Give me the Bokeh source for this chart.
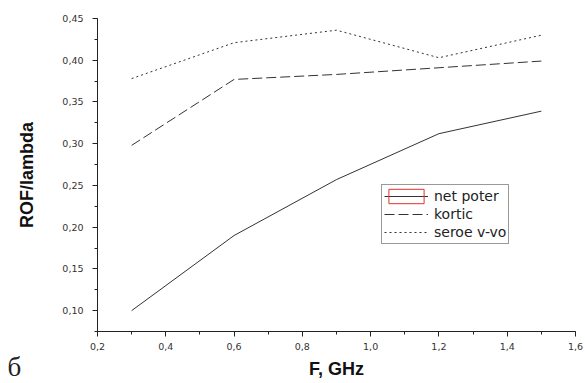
from bokeh.plotting import figure
from bokeh.models import (SingleIntervalTicker, CustomJSTickFormatter, Legend, LegendItem,
                          Label, Range1d)
from bokeh.embed import file_html
from bokeh.resources import INLINE

freq = [0.3, 0.6, 0.9, 1.2, 1.5]
net_poter = [0.100, 0.190, 0.257, 0.312, 0.339]
kortic = [0.298, 0.377, 0.383, 0.391, 0.399]
seroe = [0.378, 0.421, 0.436, 0.403, 0.430]

p = figure(width=585, height=383, output_backend="svg", toolbar_location=None,
           x_range=Range1d(0.2, 1.6), y_range=Range1d(0.075, 0.45),
           min_border_left=96, min_border_right=10, min_border_top=18, min_border_bottom=52)
p.outline_line_color = None
p.grid.visible = False
p.background_fill_color = "white"

FONT = "Liberation Sans"
TICKFONT = "DejaVu Sans"
for ax in (p.xaxis[0], p.yaxis[0]):
    ax.axis_line_color = "#222222"
    ax.major_tick_line_color = "#222222"
    ax.minor_tick_line_color = "#222222"
    ax.major_tick_in = 0
    ax.major_tick_out = 5
    ax.minor_tick_in = 0
    ax.minor_tick_out = 3
    ax.major_label_text_font = TICKFONT
    ax.major_label_text_font_size = "9.5px"
    ax.major_label_text_color = "#333333"
    ax.axis_label_text_font = FONT
    ax.axis_label_text_font_style = "bold"
    ax.axis_label_text_font_size = "18px"
    ax.axis_label_text_color = "#111111"

p.xaxis[0].ticker = SingleIntervalTicker(interval=0.2, num_minor_ticks=2)
p.yaxis[0].ticker = SingleIntervalTicker(interval=0.05, num_minor_ticks=2)
p.xaxis[0].formatter = CustomJSTickFormatter(code="return tick.toFixed(1).replace('.', ',');")
p.yaxis[0].formatter = CustomJSTickFormatter(code="return tick.toFixed(2).replace('.', ',');")
p.xaxis[0].axis_label = "F, GHz"
p.yaxis[0].axis_label = "ROF/lambda"
p.xaxis[0].major_label_standoff = 6
p.yaxis[0].major_label_standoff = 9
p.xaxis[0].axis_label_standoff = 6
p.yaxis[0].axis_label_standoff = 22

r1 = p.line(freq, net_poter, line_color="#333333", line_width=1)
r2 = p.line(freq, kortic, line_color="#333333", line_width=1, line_dash="10 4")
r3 = p.line(freq, seroe, line_color="#333333", line_width=1, line_dash="2 3")
# renderer with no drawable point: only draws the red frame around the first legend sample
nan = float("nan")
r_box = p.quad(left=[nan], right=[nan], top=[nan], bottom=[nan], fill_alpha=0,
               line_color="#e03030", line_width=1)

legend = Legend(items=[LegendItem(label="net poter", renderers=[r1, r_box]),
                       LegendItem(label="kortic", renderers=[r2]),
                       LegendItem(label="seroe v-vo", renderers=[r3])],
                location=(284, 87), label_text_font=TICKFONT, label_text_font_size="14px",
                label_text_color="#222222", border_line_color="#333333", border_line_width=1,
                padding=2, spacing=0, glyph_width=44, glyph_height=18, label_height=18,
                margin=0, label_standoff=6, background_fill_alpha=1)
p.add_layout(legend, "center")

p.add_layout(Label(x=7, y=-50, x_units="screen", y_units="screen", text="б",
                   text_font="Liberation Serif", text_font_size="27px", text_color="#222222"),
             "left")

open("out.html", "w").write(file_html(p, INLINE))
